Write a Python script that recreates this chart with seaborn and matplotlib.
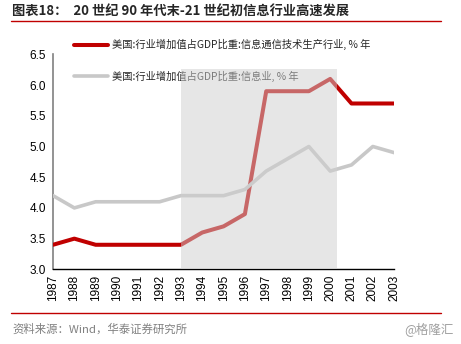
import matplotlib
matplotlib.use("Agg")
import matplotlib.pyplot as plt
import seaborn as sns
import pandas as pd
from matplotlib.lines import Line2D

years = list(range(1987, 2004))
ict_production = [3.4, 3.5, 3.4, 3.4, 3.4, 3.4, 3.4, 3.6, 3.7, 3.9, 5.9, 5.9, 5.9, 6.1, 5.7, 5.7, 5.7]
information = [4.2, 4.0, 4.1, 4.1, 4.1, 4.1, 4.2, 4.2, 4.2, 4.3, 4.6, 4.8, 5.0, 4.6, 4.7, 5.0, 4.9]
label_ict = "美国:行业增加值占GDP比重:信息通信技术生产行业, % 年"
label_info = "美国:行业增加值占GDP比重:信息业, % 年"
title = "图表18：  20 世纪 90 年代末-21 世纪初信息行业高速发展"
source = "资料来源：Wind，华泰证券研究所"
watermark = "@格隆汇"
shade_start, shade_end = 1993, 2000.3

sns.set_theme(style="white")
plt.rcParams["font.family"] = ["Liberation Sans", "Noto Sans CJK SC", "DejaVu Sans"]

df = pd.DataFrame({"year": years, "ict": ict_production, "info": information})

fig = plt.figure(figsize=(4.61, 3.44), dpi=100)
ax = fig.add_axes([0.115, 0.217, 0.74, 0.625])

red = "#C00000"
grey = "#C8C8C8"
sns.lineplot(data=df, x="year", y="ict", ax=ax, color=red, linewidth=2.9, zorder=3)
sns.lineplot(data=df, x="year", y="info", ax=ax, color=grey, linewidth=2.6, zorder=3)

ax.axvspan(shade_start, shade_end, ymin=0, ymax=(6.26 - 3.0) / 3.5, color="#CFCFCF", alpha=0.5, lw=0, zorder=10)

ax.set_xlim(1987, 2003)
ax.set_ylim(3.0, 6.5)
ax.set_xticks(years)
ax.set_xticklabels([str(y) for y in years], rotation=90, fontsize=8.5)
ax.set_yticks([3.0, 3.5, 4.0, 4.5, 5.0, 5.5, 6.0, 6.5])
ax.set_yticklabels(["3.0", "3.5", "4.0", "4.5", "5.0", "5.5", "6.0", "6.5"], fontsize=8.5)
ax.set_xlabel("")
ax.set_ylabel("")
for s in ["top", "right"]:
    ax.spines[s].set_visible(False)
ax.spines["left"].set_color("#808080")
ax.spines["left"].set_linewidth(1.2)
ax.spines["bottom"].set_color("black")
ax.spines["bottom"].set_linewidth(1.0)
ax.tick_params(axis="y", direction="out", length=3, width=1, color="#808080", pad=2, labelcolor="black")
ax.tick_params(axis="x", direction="out", length=3, width=1, color="black", pad=1, labelcolor="black")
ax.set_facecolor("white")

handles = [Line2D([0], [0], color=red, lw=2.9), Line2D([0], [0], color=grey, lw=2.6)]
leg = ax.legend(handles, [label_ict, label_info], loc="upper left",
                bbox_to_anchor=(74 / 461, 1 - 39 / 344), bbox_transform=fig.transFigure,
                frameon=False, handlelength=3.3, handletextpad=0.4,
                labelspacing=2.0, borderpad=0, borderaxespad=0,
                prop={"family": ["Noto Sans CJK SC", "DejaVu Sans"], "size": 7.4})
leg.set_zorder(5)

fig.text(0.026, 0.965, title, fontsize=9.5, fontweight="bold", va="center", ha="left",
         family=["Noto Sans CJK SC", "DejaVu Sans"])
fig.add_artist(Line2D([0.024, 0.957], [0.939, 0.939], color="#C00000", lw=1.0, transform=fig.transFigure))
fig.add_artist(Line2D([0.024, 0.957], [0.091, 0.091], color="#C00000", lw=1.0, transform=fig.transFigure))
fig.text(0.026, 0.044, source, fontsize=8.2, color="#808080", va="center", ha="left",
         family=["Noto Sans CJK SC", "DejaVu Sans"])
fig.text(0.983, 0.044, watermark, fontsize=9, color="#A0A0A0", va="center", ha="right",
         family=["Noto Sans CJK SC", "DejaVu Sans"])

fig.savefig("out.png", dpi=100)
